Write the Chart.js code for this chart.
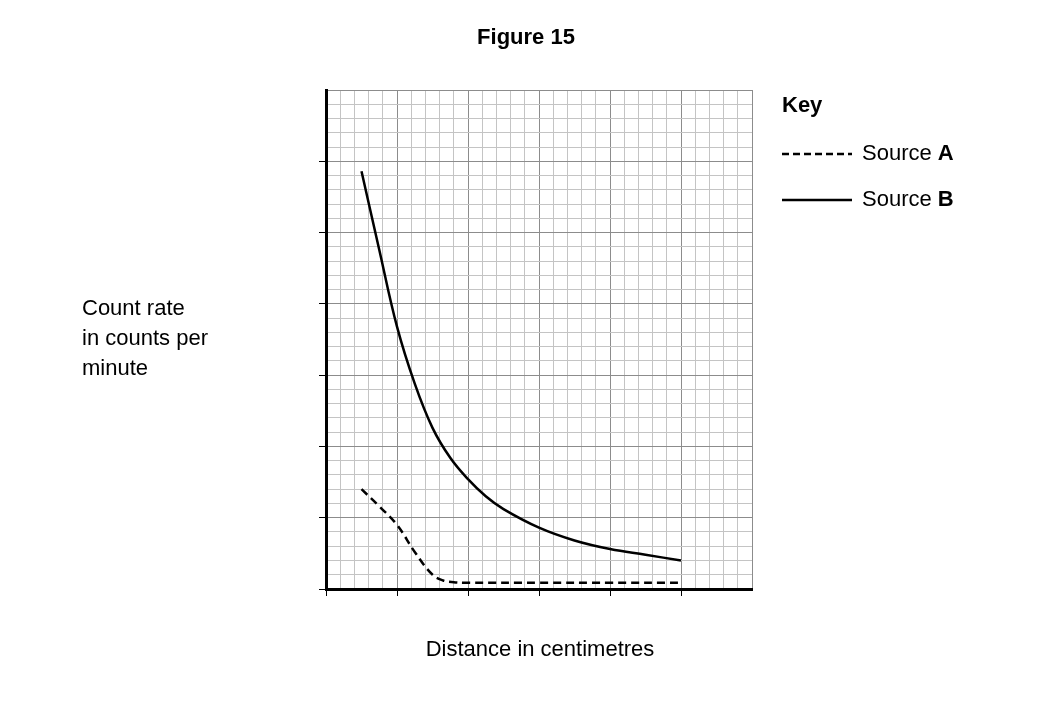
<!DOCTYPE html>
<html>
<head>
<meta charset="utf-8">
<script src="https://cdn.jsdelivr.net/npm/chart.js@4"></script>
<style>
  body { margin: 0; background: #fff; }
  #wrap { width: 1050px; height: 710px; }
</style>
</head>
<body>
<div id="wrap"><canvas id="c"></canvas></div>
<script>
const sourceA_x = [1, 1.5, 2, 2.5, 3, 3.3, 3.6, 4, 6, 8, 10];
const sourceA_y = [350, 290, 225, 130, 50, 30, 24, 22, 22, 22, 22];
const sourceB_x = [1, 1.5, 2, 2.5, 3, 3.5, 4, 4.5, 5, 6, 7, 8, 9, 10];
const sourceB_y = [1465, 1190, 920, 720, 565, 460, 385, 325, 280, 215, 170, 140, 120, 100];
const xLabels = [0, 2, 4, 6, 8, 10];
const yLabels = [0, 250, 500, 750, 1000, 1250, 1500];

const FONT = "'Liberation Sans', Arial, sans-serif";
const near = (v, list) => list.some(l => Math.abs(l - v) < 1e-6);

const textPlugin = {
  id: 'texts',
  afterDraw(chart) {
    const ctx = chart.ctx;
    ctx.save();
    ctx.fillStyle = '#000';
    ctx.textBaseline = 'middle';
    ctx.textAlign = 'center';
    ctx.font = 'bold 22px ' + FONT;
    ctx.fillText('Figure 15', 526, 38);
    ctx.textAlign = 'left';
    ctx.font = '22px ' + FONT;
    ctx.fillText('Count rate', 82, 309);
    ctx.fillText('in counts per', 82, 339);
    ctx.fillText('minute', 82, 369);
    ctx.textAlign = 'center';
    ctx.fillText('Distance in centimetres', 540, 650);
    ctx.textAlign = 'left';
    ctx.font = 'bold 22px ' + FONT;
    ctx.fillText('Key', 782, 106);
    ctx.lineWidth = 2.5;
    ctx.strokeStyle = '#000';
    ctx.setLineDash([7, 4]);
    ctx.beginPath(); ctx.moveTo(782, 154); ctx.lineTo(852, 154); ctx.stroke();
    ctx.setLineDash([]);
    ctx.beginPath(); ctx.moveTo(782, 200); ctx.lineTo(852, 200); ctx.stroke();
    const key = (label, bold, y) => {
      ctx.font = '22px ' + FONT;
      ctx.fillText(label, 862, y);
      const w = ctx.measureText(label).width;
      ctx.font = 'bold 22px ' + FONT;
      ctx.fillText(bold, 862 + w, y);
    };
    key('Source ', 'A', 154);
    key('Source ', 'B', 200);
    ctx.restore();
  }
};

const gridColor = (ctx, majorEvery) => {
  const v = ctx.tick ? ctx.tick.value : 0;
  return Math.abs(v / majorEvery - Math.round(v / majorEvery)) < 1e-6 ? '#8c8c8c' : '#c4c4c4';
};

new Chart(document.getElementById('c'), {
  type: 'line',
  data: {
    datasets: [{
      label: 'Source A',
      data: sourceA_x.map((x, i) => ({x, y: sourceA_y[i]})),
      borderColor: '#000', borderWidth: 2.5, borderDash: [8, 5],
      pointRadius: 0, tension: 0.4, fill: false
    }, {
      label: 'Source B',
      data: sourceB_x.map((x, i) => ({x, y: sourceB_y[i]})),
      borderColor: '#000', borderWidth: 2.5,
      pointRadius: 0, tension: 0.4, fill: false
    }]
  },
  options: {
    animation: false,
    responsive: true,
    maintainAspectRatio: false,
    layout: {padding: {left: 326, top: 90, right: 298, bottom: 121}},
    scales: {
      x: {
        type: 'linear', min: 0, max: 12,
        afterFit: s => { s.height = 0; },
        afterBuildTicks: s => {
          const t = [];
          for (let i = 0; i <= 30; i++) t.push({value: +(i * 0.4).toFixed(2)});
          s.ticks = t;
        },
        border: {color: '#000', width: 3},
        grid: {
          color: c => gridColor(c, 2),
          tickLength: 7,
          tickColor: c => near(c.tick.value, xLabels) ? '#000' : 'rgba(0,0,0,0)'
        },
        ticks: {
          autoSkip: false, maxRotation: 0, padding: 2, color: '#000',
          font: {family: FONT, size: 22},
          callback: v => near(v, xLabels) ? String(Math.round(v)) : ''
        }
      },
      y: {
        type: 'linear', min: 0, max: 1750,
        afterFit: s => { s.width = 0; },
        afterBuildTicks: s => {
          const t = [];
          for (let v = 0; v <= 1750; v += 50) t.push({value: v});
          s.ticks = t;
        },
        border: {color: '#000', width: 3},
        grid: {
          color: c => gridColor(c, 250),
          tickLength: 7,
          tickColor: c => near(c.tick.value, yLabels) ? '#000' : 'rgba(0,0,0,0)'
        },
        ticks: {
          autoSkip: false, padding: 3, color: '#000',
          font: {family: FONT, size: 22},
          callback: v => near(v, yLabels) ? String(v) : ''
        }
      }
    },
    plugins: {legend: {display: false}, tooltip: {enabled: false}}
  },
  plugins: [textPlugin]
});
</script>
</body>
</html>
